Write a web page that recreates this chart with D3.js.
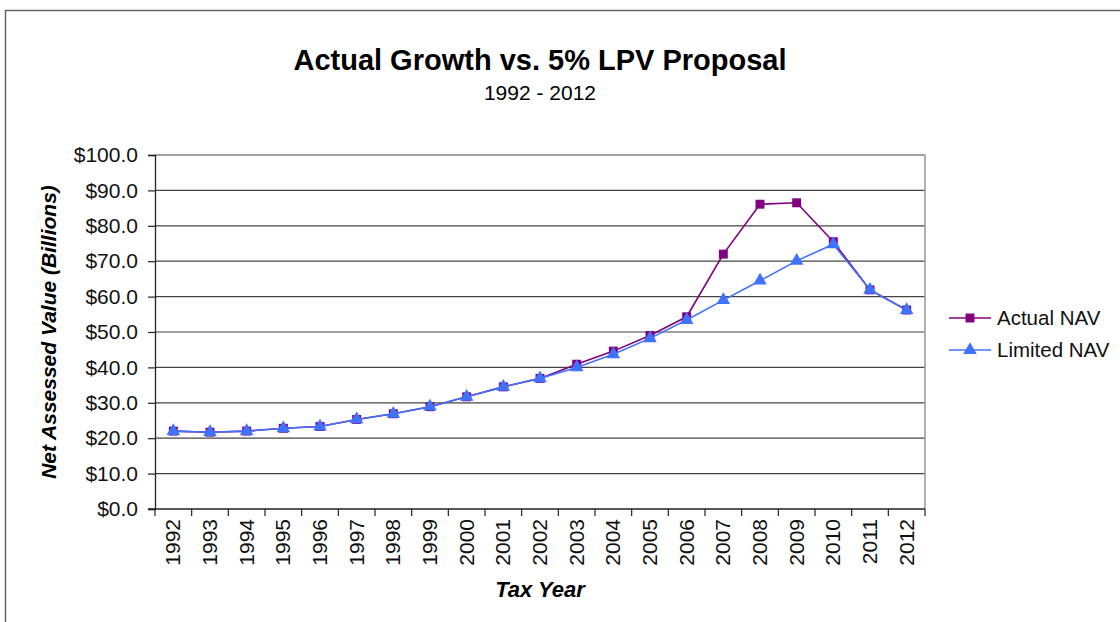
<!DOCTYPE html>
<html>
<head>
<meta charset="utf-8">
<script src="https://cdn.jsdelivr.net/npm/d3@7"></script>
<style>
  body { margin: 0; background: #fff; }
  svg { display: block; font-family: "Liberation Sans", Arial, sans-serif; }
</style>
</head>
<body>
<svg id="main-chart"></svg>
<script>
const years = ["1992","1993","1994","1995","1996","1997","1998","1999","2000","2001","2002",
               "2003","2004","2005","2006","2007","2008","2009","2010","2011","2012"];
const actualNAV = [22.0,21.7,22.0,22.8,23.3,25.3,26.9,28.9,31.7,34.5,36.9,
                   40.9,44.6,49.0,54.3,72.0,86.1,86.5,75.5,61.9,56.2];
const limitedNAV = [22.0,21.7,22.0,22.8,23.3,25.3,26.9,28.9,31.7,34.5,36.9,
                    40.0,43.7,48.2,53.4,59.0,64.5,70.1,74.8,61.9,56.2];
const yTicks = [0,10,20,30,40,50,60,70,80,90,100];

function plotchart()
{
  const width = 1120, height = 622;
  const left = 155, right = 925, top = 155, bottom = 509;

  const svg = d3.select("#main-chart")
      .attr("width", width)
      .attr("height", height);

  // outer frame (only top and left edges are visible)
  svg.append("path")
      .attr("d", `M5.5,${height}V10.5H${width}`)
      .attr("fill", "none")
      .attr("stroke", "#666")
      .attr("stroke-width", 1.5);

  const x = d3.scaleBand().domain(years).range([left, right]);
  const y = d3.scaleLinear().domain([0, 100]).range([bottom, top]);

  // gridlines
  svg.append("g")
    .selectAll("line")
    .data(yTicks.filter(d => d > 0))
    .join("line")
      .attr("x1", left).attr("x2", right)
      .attr("y1", d => y(d)).attr("y2", d => y(d))
      .attr("stroke", "#444")
      .attr("stroke-width", 1.2);

  // right border of plot area
  svg.append("line")
      .attr("x1", right).attr("x2", right)
      .attr("y1", top).attr("y2", bottom)
      .attr("stroke", "#999")
      .attr("stroke-width", 1.5);

  // y axis
  const yAxis = svg.append("g")
      .attr("transform", `translate(${left},0)`)
      .call(d3.axisLeft(y).tickValues(yTicks).tickSize(7).tickPadding(10)
              .tickFormat(d => "$" + d3.format(".1f")(d)));
  yAxis.select(".domain").attr("stroke", "#222").attr("stroke-width", 1.3);
  yAxis.selectAll(".tick line").attr("stroke", "#222").attr("stroke-width", 1.2);
  yAxis.selectAll("text")
      .attr("font-size", 21)
      .attr("font-family", "Liberation Sans, Arial, sans-serif")
      .attr("fill", "#111");

  // x axis: ticks at category boundaries
  const xAxis = svg.append("g")
      .attr("transform", `translate(0,${bottom})`);
  xAxis.append("line")
      .attr("x1", left - 7).attr("x2", right)
      .attr("stroke", "#222").attr("stroke-width", 1.3);
  xAxis.selectAll("line.tk")
    .data(years.concat(["end"]))
    .join("line")
      .attr("class", "tk")
      .attr("x1", (d, i) => left + i * x.bandwidth())
      .attr("x2", (d, i) => left + i * x.bandwidth())
      .attr("y1", 0).attr("y2", 7)
      .attr("stroke", "#222").attr("stroke-width", 1.2);
  xAxis.selectAll("text")
    .data(years)
    .join("text")
      .attr("transform", d => `translate(${x(d) + x.bandwidth() / 2 + 7},10) rotate(-90)`)
      .attr("text-anchor", "end")
      .attr("font-size", 21)
      .attr("fill", "#111")
      .text(d => d);

  // titles
  svg.append("text")
      .attr("x", 540).attr("y", 70)
      .attr("text-anchor", "middle")
      .attr("font-size", 29)
      .attr("font-weight", "bold")
      .text("Actual Growth vs. 5% LPV Proposal");
  svg.append("text")
      .attr("x", 540).attr("y", 100)
      .attr("text-anchor", "middle")
      .attr("font-size", 21)
      .text("1992 - 2012");
  svg.append("text")
      .attr("x", 540).attr("y", 597)
      .attr("text-anchor", "middle")
      .attr("font-size", 22)
      .attr("font-weight", "bold")
      .attr("font-style", "italic")
      .text("Tax Year");
  svg.append("text")
      .attr("transform", `translate(56,${(top + bottom) / 2}) rotate(-90)`)
      .attr("text-anchor", "middle")
      .attr("font-size", 21)
      .attr("font-weight", "bold")
      .attr("font-style", "italic")
      .text("Net Assessed Value (Billions)");

  const cx = d => x(d) + x.bandwidth() / 2;
  const line = d3.line().x(d => cx(d[0])).y(d => y(d[1]));

  const series = [
    { name: "Actual NAV", values: actualNAV, color: "#800080", symbol: d3.symbolSquare, size: 80 },
    { name: "Limited NAV", values: limitedNAV, color: "#3f72ff", symbol: d3.symbolTriangle, size: 80 }
  ];

  series.forEach(s => {
    const pts = years.map((yr, i) => [yr, s.values[i]]);
    svg.append("path")
        .attr("d", line(pts))
        .attr("fill", "none")
        .attr("stroke", s.color)
        .attr("stroke-width", 1.6);
    svg.append("g")
      .selectAll("path")
      .data(pts)
      .join("path")
        .attr("transform", d => `translate(${cx(d[0])},${y(d[1])})`)
        .attr("d", d3.symbol(s.symbol, s.size))
        .attr("fill", s.color);
  });

  // legend
  const legend = svg.append("g").attr("transform", "translate(949,318)");
  series.forEach((s, i) => {
    const g = legend.append("g").attr("transform", `translate(0,${i * 32})`);
    g.append("line").attr("x1", 0).attr("x2", 42)
        .attr("stroke", s.color).attr("stroke-width", 1.6);
    g.append("path").attr("transform", "translate(21,0)")
        .attr("d", d3.symbol(s.symbol, s.size)).attr("fill", s.color);
    g.append("text").attr("x", 48).attr("y", 7)
        .attr("font-size", 20.5).attr("fill", "#111")
        .text(s.name);
  });
}

plotchart();
</script>
</body>
</html>
